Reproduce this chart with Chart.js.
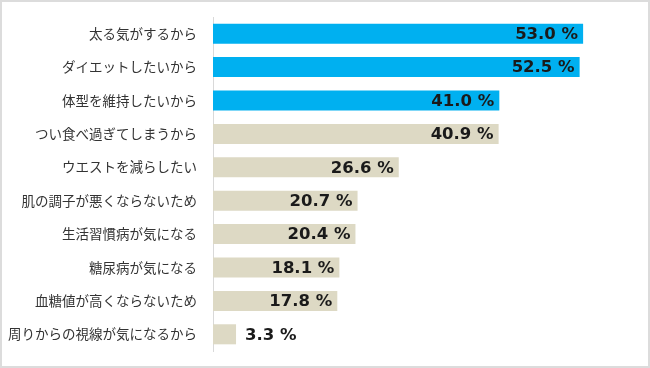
<!DOCTYPE html>
<html>
<head>
<meta charset="utf-8">
<script src="https://cdn.jsdelivr.net/npm/chart.js@4"></script>
<style>
  html, body { margin: 0; padding: 0; background: #fff; }
  #wrap { position: relative; width: 650px; height: 368px; box-sizing: border-box; border: 2px solid #dcdcdc; }
  #chart { position: absolute; left: -2px; top: -2px; }
</style>
</head>
<body>
<div id="wrap"><canvas id="chart" width="650" height="368"></canvas></div>
<script>
const reasons = ['太る気がするから', 'ダイエットしたいから', '体型を維持したいから', 'つい食べ過ぎてしまうから', 'ウエストを減らしたい', '肌の調子が悪くならないため', '生活習慣病が気になる', '糖尿病が気になる', '血糖値が高くならないため', '周りからの視線が気になるから'];
const percents = [53.0, 52.5, 41.0, 40.9, 26.6, 20.7, 20.4, 18.1, 17.8, 3.3];
const highlighted = [true, true, true, false, false, false, false, false, false, false];

const blue = '#00b0f0';
const beige = '#ddd9c4';

// value labels at the end of each bar (outside when the bar is too short)
const valueLabels = {
    id: 'valueLabels',
    afterDatasetsDraw(chart) {
        const ctx = chart.ctx;
        const meta = chart.getDatasetMeta(0);
        ctx.save();
        ctx.font = 'bold 16.5px "DejaVu Sans", sans-serif';
        ctx.fillStyle = '#1a1a1a';
        ctx.textBaseline = 'middle';
        meta.data.forEach((bar, i) => {
            const text = percents[i].toFixed(1) + ' %';
            const w = ctx.measureText(text).width;
            if (bar.x - bar.base > w + 12) {
                ctx.textAlign = 'right';
                ctx.fillText(text, bar.x - 5, bar.y + 1);
            } else {
                ctx.textAlign = 'left';
                ctx.fillText(text, bar.x + 9, bar.y + 1);
            }
        });
        ctx.restore();
    }
};

new Chart(document.getElementById('chart'), {
    type: 'bar',
    data: {
        labels: reasons,
        datasets: [{
            data: percents,
            backgroundColor: highlighted.map(h => h ? blue : beige),
            borderWidth: 0,
            barPercentage: 0.6,
            categoryPercentage: 1
        }]
    },
    options: {
        indexAxis: 'y',
        responsive: false,
        animation: false,
        layout: { padding: { top: 17, bottom: 17, right: 18, left: 0 } },
        plugins: {
            legend: { display: false },
            tooltip: { enabled: false }
        },
        scales: {
            x: {
                display: false,
                min: 0,
                max: 60
            },
            y: {
                afterFit(scale) {
                    scale.width = 213;
                    // tick padding should only push labels sideways
                    scale.paddingTop = 0;
                    scale.paddingBottom = 0;
                },
                grid: { display: false, drawTicks: false },
                border: { display: true, color: '#d9d9d9', width: 1 },
                ticks: {
                    padding: 16,
                    color: '#333333',
                    font: { family: '"Noto Sans CJK JP", sans-serif', size: 13.5 }
                }
            }
        }
    },
    plugins: [valueLabels]
});
</script>
</body>
</html>
